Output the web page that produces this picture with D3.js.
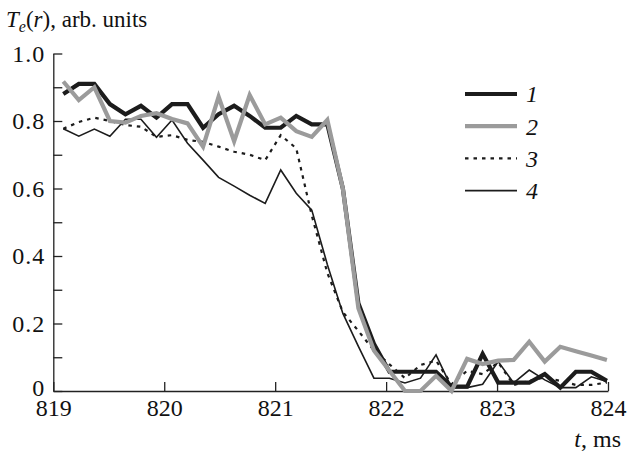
<!DOCTYPE html>
<html>
<head>
<meta charset="utf-8">
<script src="https://cdn.jsdelivr.net/npm/d3@7"></script>
<style>
  html, body { margin: 0; padding: 0; background: #fff; }
  svg { display: block; }
  svg text { font-family: "Liberation Serif", "Times New Roman", "DejaVu Serif", serif; }
</style>
</head>
<body>
<svg id="chart" width="628" height="458"></svg>
<script>
// Sample times, ms
const times = [
  819.09, 819.23, 819.37, 819.51, 819.65, 819.79, 819.93, 820.07, 820.21, 820.35,
  820.49, 820.63, 820.77, 820.91, 821.05, 821.19, 821.33, 821.47, 821.61, 821.75,
  821.89, 822.03, 822.17, 822.31, 822.45, 822.59, 822.73, 822.87, 823.01, 823.15,
  823.29, 823.43, 823.57, 823.71, 823.85, 823.99
];

// Te(r) profiles, arb. units
const series1 = [
  0.88, 0.91, 0.91, 0.85, 0.82, 0.845, 0.81, 0.85, 0.85, 0.78,
  0.82, 0.845, 0.815, 0.78, 0.78, 0.815, 0.79, 0.79, 0.60, 0.26,
  0.14, 0.057, 0.057, 0.057, 0.057, 0.013, 0.013, 0.11, 0.025, 0.025,
  0.025, 0.05, 0.01, 0.057, 0.057, 0.03
];
const series2 = [
  0.917, 0.862, 0.90, 0.80, 0.795, 0.815, 0.823, 0.806, 0.793, 0.724,
  0.872, 0.74, 0.877, 0.79, 0.81, 0.77, 0.753, 0.803, 0.60, 0.245,
  0.12, 0.06, 0.0, 0.0, 0.045, 0.0, 0.095, 0.08, 0.09, 0.092,
  0.146, 0.087, 0.131, 0.118, 0.105, 0.092
];
const series3 = [
  0.777, 0.797, 0.81, 0.80, 0.788, 0.783, 0.753, 0.758, 0.744, 0.738,
  0.724, 0.709, 0.70, 0.684, 0.758, 0.719, 0.52, 0.35, 0.234, 0.178,
  0.12, 0.079, 0.038, 0.077, 0.09, 0.02, 0.06, 0.05, 0.085, 0.018,
  0.03, 0.04, 0.03, 0.018, 0.018, 0.025
];
const series4 = [
  0.777, 0.755, 0.776, 0.755, 0.805, 0.805, 0.752, 0.803, 0.734, 0.684,
  0.633, 0.607, 0.58, 0.556, 0.655, 0.586, 0.536, 0.375, 0.23, 0.132,
  0.038, 0.038, 0.024, 0.038, 0.107, 0.01, 0.01, 0.02, 0.087, 0.024,
  0.062, 0.033, 0.01, 0.01, 0.042, 0.028
];

const seriesNames = ["1", "2", "3", "4"];
const xTicks = [819, 820, 821, 822, 823, 824];
const yTicks = [0, 0.1, 0.2, 0.3, 0.4, 0.5, 0.6, 0.7, 0.8, 0.9, 1.0];

const styles = [
  { stroke: "#1c1c1c", width: 4.2, dash: null },
  { stroke: "#9b9b9b", width: 4.2, dash: null },
  { stroke: "#1c1c1c", width: 2.2, dash: "3.5,5" },
  { stroke: "#1c1c1c", width: 1.6, dash: null }
];

const svg = d3.select("#chart");
const x = d3.scaleLinear().domain([819, 824]).range([53.3, 608]);
const y = d3.scaleLinear().domain([0, 1]).range([391, 53.5]);

// axes: ticks point inward
const xAxis = d3.axisBottom(x)
  .tickValues(xTicks)
  .tickSize(-9)
  .tickSizeOuter(0)
  .tickPadding(8)
  .tickFormat(d3.format("d"));

const yAxis = d3.axisLeft(y)
  .tickValues(yTicks)
  .tickSize(-9)
  .tickSizeOuter(0)
  .tickPadding(8)
  .tickFormat(v => {
    const k = Math.round(v * 10);
    if (k % 2 !== 0) return "";
    return k === 0 ? "0" : d3.format(".1f")(v);
  });

const gx = svg.append("g").attr("transform", `translate(0,${y(0)})`).call(xAxis);
const gy = svg.append("g").attr("transform", `translate(${x(819)},0)`).call(yAxis);

[gx, gy].forEach(g => {
  g.attr("font-family", null);
  g.select(".domain").attr("stroke", "#222").attr("stroke-width", 1.3);
  g.selectAll(".tick line").attr("stroke", "#222").attr("stroke-width", 1.3);
  g.selectAll("text").attr("fill", "#111");
});
gx.selectAll("text").style("font-size", "24px");
gy.selectAll("text").style("font-size", "24px").style("letter-spacing", "1px");
// the zero label sits a touch higher so it clears the 819 label
gy.selectAll(".tick text").filter(d => d === 0).attr("dy", "0.18em");

// lines
const line = d3.line()
  .x((d, i) => x(times[i]))
  .y(d => y(d));

const allSeries = [series1, series2, series3, series4];
const drawOrder = [3, 2, 0, 1];
drawOrder.forEach(idx => {
  const s = styles[idx];
  svg.append("path")
    .datum(allSeries[idx])
    .attr("d", line)
    .attr("fill", "none")
    .attr("stroke", s.stroke)
    .attr("stroke-width", s.width)
    .attr("stroke-linejoin", "miter")
    .attr("stroke-miterlimit", 4)
    .attr("stroke-dasharray", s.dash);
});

// legend
const legend = svg.append("g");
seriesNames.forEach((name, i) => {
  const s = styles[i];
  const ly = 94 + i * 32.2;
  legend.append("line")
    .attr("x1", 465).attr("x2", 517)
    .attr("y1", ly).attr("y2", ly)
    .attr("stroke", s.stroke)
    .attr("stroke-width", s.width)
    .attr("stroke-dasharray", s.dash);
  legend.append("text")
    .attr("x", 526).attr("y", ly)
    .attr("dy", "0.35em")
    .style("font-size", "24px")
    .style("font-style", "italic")
    .attr("fill", "#111")
    .text(name);
});

// axis titles
const title = svg.append("text")
  .attr("x", 6).attr("y", 27)
  .style("font-size", "23px")
  .attr("fill", "#111");
title.append("tspan").style("font-style", "italic").text("T");
title.append("tspan").style("font-style", "italic").style("font-size", "16px").attr("dy", 5).text("e");
title.append("tspan").attr("dy", -5).text("(");
title.append("tspan").style("font-style", "italic").text("r");
title.append("tspan").text("), arb. units");

const xt = svg.append("text")
  .attr("x", 621).attr("y", 447)
  .attr("text-anchor", "end")
  .style("font-size", "24px")
  .attr("fill", "#111");
xt.append("tspan").style("font-style", "italic").text("t");
xt.append("tspan").text(", ms");
</script>
</body>
</html>
